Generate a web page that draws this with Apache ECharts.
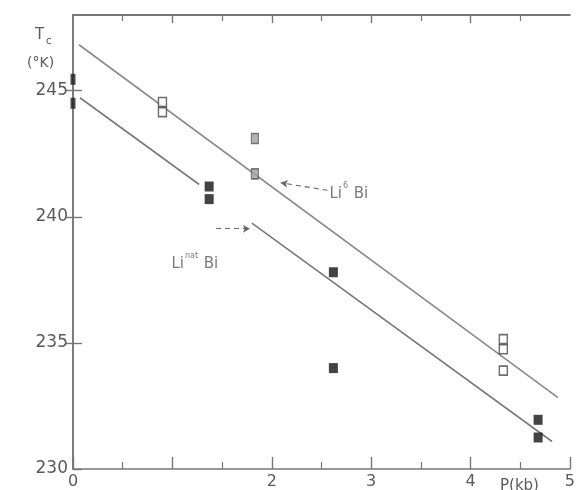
<!DOCTYPE html>
<html>
<head>
<meta charset="utf-8">
<script src="https://cdn.jsdelivr.net/npm/echarts@6/dist/echarts.min.js"></script>
<style>
  html, body { margin: 0; padding: 0; background: #fff; }
  #chart { width: 578px; height: 490px; }
</style>
</head>
<body>
<div id="chart"></div>
<script>
// Transition temperature Tc of LiBi vs pressure P (kbar)
const xTicks = [0, 1, 2, 3, 4, 5];
const xLabels = [0, 2, 3, 4, 5];
const yTicks = [230, 235, 240, 245];

// Li(nat)Bi samples (filled squares)
const pNat = [1.37, 1.37, 2.62, 2.62, 4.68, 4.68];
const tcNat = [241.2, 240.7, 237.8, 234.0, 231.95, 231.25];
// Ambient-pressure points sitting on the Tc axis
const pZero = [0, 0];
const tcZero = [245.45, 244.5];

// Li6Bi samples (open squares)
const pLi6 = [0.9, 0.9, 4.33, 4.33, 4.33];
const tcLi6 = [244.55, 244.15, 235.15, 234.75, 233.9];
// Li6Bi grey-shaded points
const pLi6b = [1.83, 1.83];
const tcLi6b = [243.1, 241.7];

// Fitted lines (end points, null = break in the line)
const fitLi6X = [0.06, 4.88];
const fitLi6Y = [246.82, 232.83];
const fitNatX = [0.07, 1.27, null, 1.8, 4.82];
const fitNatY = [244.72, 241.28, null, 239.75, 231.09];

// Leaders pointing from the labels to the lines
const leaderLi6 = [[2.56, 241.05], [2.09, 241.35]];
const leaderNat = [[1.44, 239.53], [1.78, 239.53]];
const labelLi6 = [2.58, 240.98];
const labelNat = [0.99, 238.22];

const pairs = (xs, ys) => xs.map((x, i) => (x === null ? null : [x, ys[i]]));

const axisGrey = '#777';
const textGrey = '#5a5a5a';
const font = 'DejaVu Sans';

const chart = echarts.init(document.getElementById('chart'));

const option = {
  animation: false,
  backgroundColor: '#fff',
  grid: { left: 73, right: 4, top: 15, bottom: 19, containLabel: false },
  xAxis: [
    {
      type: 'value', position: 'bottom', min: 0, max: 5, interval: 1,
      axisLine: { show: true, lineStyle: { color: axisGrey, width: 1.6 } },
      axisTick: { show: true, inside: true, length: 12, lineStyle: { color: axisGrey, width: 1.4 } },
      minorTick: { show: true, splitNumber: 2, length: 7, lineStyle: { color: axisGrey, width: 1.2 } },
      splitLine: { show: false },
      axisLabel: {
        color: textGrey, fontFamily: font, fontSize: 16, margin: 5,
        customValues: xLabels
      }
    },
    {
      type: 'value', position: 'top', min: 0, max: 5, interval: 1,
      axisLine: { show: true, lineStyle: { color: axisGrey, width: 1.8 } },
      axisTick: { show: true, inside: true, length: 8, customValues: [1, 2, 3, 4], lineStyle: { color: axisGrey, width: 1.4 } },
      minorTick: { show: true, splitNumber: 2, length: 6, lineStyle: { color: axisGrey, width: 1.2 } },
      splitLine: { show: false },
      axisLabel: { show: false }
    }
  ],
  yAxis: [
    {
      type: 'value', position: 'left', min: 230, max: 248, interval: 5,
      axisLine: { show: true, lineStyle: { color: axisGrey, width: 1.6 } },
      axisTick: { show: true, inside: true, length: 9, customValues: yTicks, lineStyle: { color: axisGrey, width: 1.4 } },
      splitLine: { show: false },
      axisLabel: {
        color: textGrey, fontFamily: font, fontSize: 17, margin: 5,
        customValues: yTicks
      }
    },
    {
      type: 'value', position: 'right', min: 230, max: 248, interval: 5,
      axisLine: { show: true, lineStyle: { color: axisGrey, width: 1.6 } },
      axisTick: { show: true, inside: true, length: 8, customValues: [235, 240, 245], lineStyle: { color: axisGrey, width: 1.4 } },
      splitLine: { show: false },
      axisLabel: { show: false }
    }
  ],
  series: [
    {
      name: 'fit Li6Bi', type: 'line', data: pairs(fitLi6X, fitLi6Y),
      symbol: 'none', lineStyle: { color: '#8a8a8a', width: 1.6 }, z: 2
    },
    {
      name: 'fit LinatBi', type: 'line', data: pairs(fitNatX, fitNatY),
      symbol: 'none', connectNulls: false, lineStyle: { color: '#7a7a7a', width: 1.6 }, z: 2
    },
    {
      name: 'leaders', type: 'line', data: [], symbol: 'none',
      markLine: {
        silent: true, symbol: ['none', 'arrow'], symbolSize: [6, 7],
        label: { show: false },
        lineStyle: { color: '#666', type: [5, 4], width: 1.1 },
        data: [
          [{ coord: leaderLi6[0] }, { coord: leaderLi6[1] }],
          [{ coord: leaderNat[0] }, { coord: leaderNat[1] }]
        ]
      }
    },
    {
      name: 'LinatBi', type: 'scatter', data: pairs(pNat, tcNat),
      symbol: 'rect', symbolSize: [9, 10],
      itemStyle: { color: '#141414' }, z: 5
    },
    {
      name: 'LinatBi P=0', type: 'scatter', data: pairs(pZero, tcZero),
      symbol: 'rect', symbolSize: [5, 11], clip: false,
      itemStyle: { color: '#222' }, z: 5
    },
    {
      name: 'Li6Bi', type: 'scatter', data: pairs(pLi6, tcLi6),
      symbol: 'rect', symbolSize: [8, 9],
      itemStyle: { color: '#fff', borderColor: '#4a4a4a', borderWidth: 1.5 }, z: 5
    },
    {
      name: 'Li6Bi grey', type: 'scatter', data: pairs(pLi6b, tcLi6b),
      symbol: 'rect', symbolSize: [7, 10],
      itemStyle: { color: '#a0a0a0', borderColor: '#5a5a5a', borderWidth: 1.3 }, z: 5
    },
    {
      name: 'labels', type: 'scatter', symbolSize: 0, silent: true,
      data: [
        { value: labelLi6, label: { formatter: '{b|Li}{s|6}{b| Bi}' } },
        { value: labelNat, label: { formatter: '{b|Li}{s|nat}{b| Bi}' } }
      ],
      label: {
        show: true, position: 'right', distance: 0,
        rich: {
          b: { fontFamily: font, fontSize: 15, color: textGrey, verticalAlign: 'bottom', lineHeight: 20 },
          s: { fontFamily: font, fontSize: 8, color: textGrey, verticalAlign: 'top', lineHeight: 20, padding: [0, 1, 0, 1] }
        }
      },
      z: 6
    }
  ],
  graphic: [
    {
      type: 'text', left: 35, top: 28, silent: true,
      style: { text: 'T', font: '15px "DejaVu Sans"', fill: textGrey }
    },
    {
      type: 'text', left: 46, top: 36, silent: true,
      style: { text: 'c', font: '10px "DejaVu Sans"', fill: textGrey }
    },
    {
      type: 'text', left: 27, top: 56, silent: true,
      style: { text: '(°K)', font: '14px "DejaVu Sans"', fill: textGrey }
    },
    {
      type: 'text', left: 500, top: 479, silent: true,
      style: { text: 'P(kb)', font: '15px "DejaVu Sans"', fill: textGrey }
    }
  ]
};

chart.setOption(option);
</script>
</body>
</html>
